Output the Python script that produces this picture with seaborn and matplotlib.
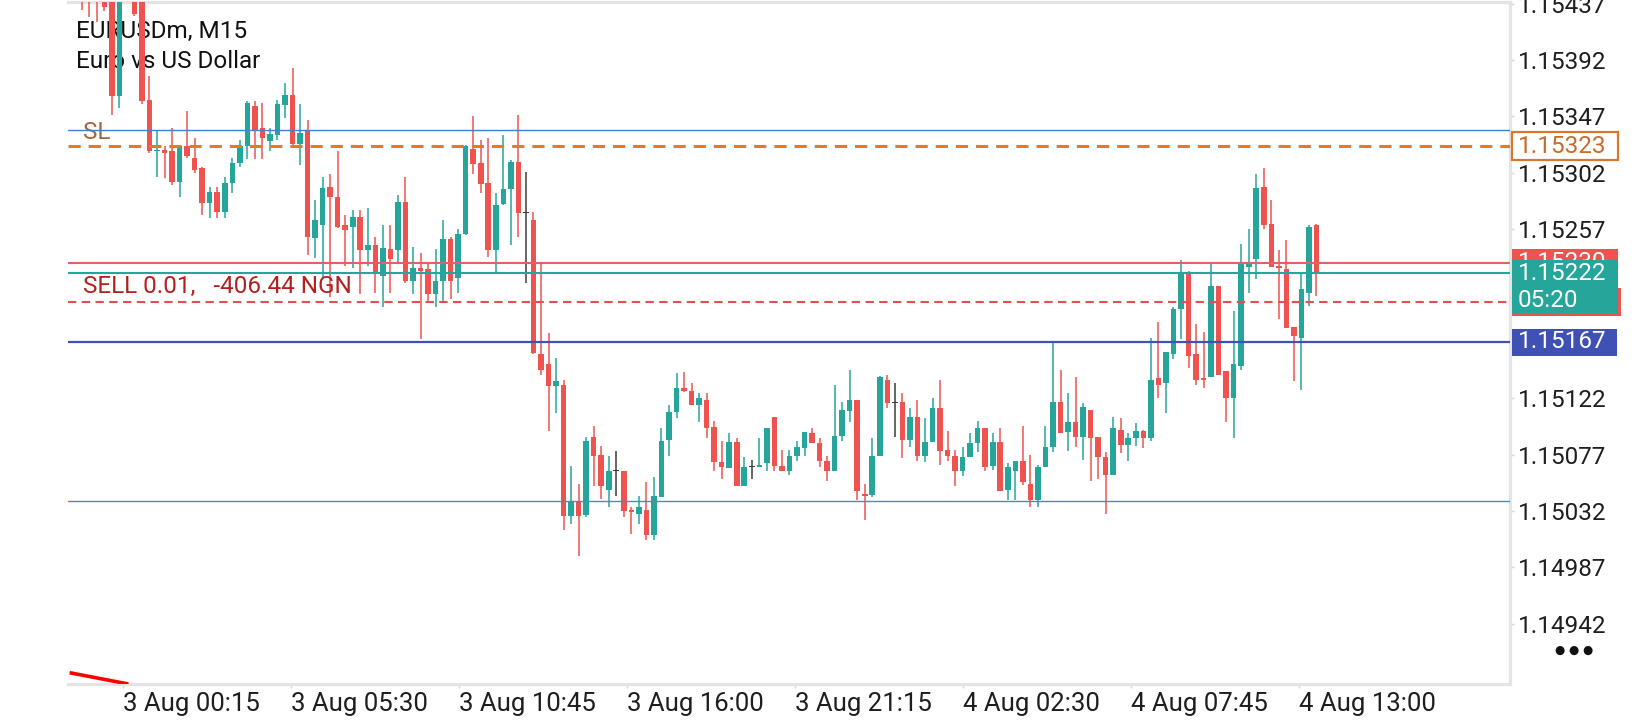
import matplotlib
matplotlib.use("Agg")
import matplotlib.pyplot as plt
import matplotlib.patches as mpatches
import matplotlib.transforms as mtransforms
import numpy as np
import seaborn as sns

symbol = "EURUSDm, M15"
description = "Euro vs US Dollar"

# M15 candles (left to right)
opens = [1.15446, 1.15448, 1.15450, 1.15447, 1.15446, 1.15363, 1.15448, 1.15455, 1.15438, 1.15360,
         1.15319, 1.15320, 1.15319, 1.15295, 1.15323, 1.15314, 1.15306, 1.15278, 1.15287, 1.15271,
         1.15294, 1.15310, 1.15323, 1.15355, 1.15338, 1.15327, 1.15332, 1.15356, 1.15364, 1.15325,
         1.15336, 1.15250, 1.15260, 1.15291, 1.15283, 1.15260, 1.15259, 1.15267, 1.15240, 1.15244,
         1.15220, 1.15241, 1.15240, 1.15279, 1.15216, 1.15226, 1.15225, 1.15205, 1.15216, 1.15249,
         1.15218, 1.15253, 1.15321, 1.15310, 1.15294, 1.15240, 1.15277, 1.15289, 1.15311, 1.15270,
         1.15264, 1.15157, 1.15149, 1.15132, 1.15133, 1.15028, 1.15039, 1.15029, 1.15091, 1.15077,
         1.15049, 1.15064, 1.15064, 1.15033, 1.15030, 1.15033, 1.15013, 1.15043, 1.15089, 1.15111,
         1.15130, 1.15128, 1.15117, 1.15121, 1.15099, 1.15071, 1.15066, 1.15087, 1.15052, 1.15067,
         1.15067, 1.15070, 1.15107, 1.15068, 1.15064, 1.15076, 1.15082, 1.15094, 1.15086, 1.15072,
         1.15064, 1.15092, 1.15112, 1.15121, 1.15046, 1.15045, 1.15076, 1.15137, 1.15118, 1.15119,
         1.15089, 1.15107, 1.15076, 1.15087, 1.15114, 1.15081, 1.15076, 1.15064, 1.15075, 1.15086,
         1.15098, 1.15068, 1.15087, 1.15049, 1.15064, 1.15072, 1.15054, 1.15041, 1.15067, 1.15083,
         1.15119, 1.15095, 1.15103, 1.15091, 1.15113, 1.15091, 1.15075, 1.15061, 1.15097, 1.15085,
         1.15090, 1.15096, 1.15090, 1.15138, 1.15134, 1.15157, 1.15193, 1.15221, 1.15157, 1.15138,
         1.15139, 1.15212, 1.15144, 1.15122, 1.15148, 1.15227, 1.15233, 1.15291, 1.15261, 1.15228,
         1.15225, 1.15179, 1.15170, 1.15206, 1.15260]
highs = [1.15451, 1.15453, 1.15456, 1.15455, 1.15452, 1.15456, 1.15462, 1.15460, 1.15445, 1.15379,
         1.15335, 1.15323, 1.15338, 1.15324, 1.15351, 1.15330, 1.15307, 1.15291, 1.15291, 1.15299,
         1.15314, 1.15328, 1.15359, 1.15359, 1.15358, 1.15338, 1.15360, 1.15374, 1.15386, 1.15357,
         1.15344, 1.15280, 1.15299, 1.15301, 1.15319, 1.15268, 1.15272, 1.15272, 1.15274, 1.15251,
         1.15260, 1.15260, 1.15284, 1.15299, 1.15243, 1.15238, 1.15230, 1.15241, 1.15264, 1.15251,
         1.15257, 1.15324, 1.15347, 1.15328, 1.15330, 1.15286, 1.15332, 1.15312, 1.15348, 1.15303,
         1.15271, 1.15230, 1.15174, 1.15154, 1.15137, 1.15068, 1.15054, 1.15091, 1.15100, 1.15084,
         1.15076, 1.15080, 1.15064, 1.15035, 1.15044, 1.15055, 1.15059, 1.15098, 1.15117, 1.15142,
         1.15143, 1.15134, 1.15126, 1.15126, 1.15104, 1.15088, 1.15094, 1.15090, 1.15075, 1.15073,
         1.15090, 1.15098, 1.15107, 1.15081, 1.15081, 1.15088, 1.15095, 1.15098, 1.15090, 1.15076,
         1.15133, 1.15119, 1.15145, 1.15121, 1.15054, 1.15090, 1.15140, 1.15141, 1.15134, 1.15126,
         1.15114, 1.15121, 1.15106, 1.15122, 1.15137, 1.15096, 1.15081, 1.15083, 1.15094, 1.15104,
         1.15098, 1.15094, 1.15098, 1.15070, 1.15072, 1.15100, 1.15077, 1.15069, 1.15100, 1.15166,
         1.15145, 1.15126, 1.15139, 1.15118, 1.15113, 1.15091, 1.15079, 1.15107, 1.15106, 1.15094,
         1.15102, 1.15097, 1.15170, 1.15183, 1.15159, 1.15195, 1.15232, 1.15224, 1.15181, 1.15175,
         1.15229, 1.15212, 1.15144, 1.15192, 1.15245, 1.15257, 1.15301, 1.15306, 1.15280, 1.15240,
         1.15248, 1.15179, 1.15223, 1.15260, 1.15261]
lows = [1.15432, 1.15426, 1.15422, 1.15431, 1.15348, 1.15354, 1.15443, 1.15427, 1.15357, 1.15318,
        1.15299, 1.15298, 1.15292, 1.15283, 1.15314, 1.15302, 1.15268, 1.15266, 1.15266, 1.15266,
        1.15286, 1.15307, 1.15313, 1.15313, 1.15313, 1.15319, 1.15328, 1.15346, 1.15323, 1.15308,
        1.15236, 1.15234, 1.15219, 1.15203, 1.15258, 1.15228, 1.15226, 1.15205, 1.15228, 1.15206,
        1.15195, 1.15206, 1.15230, 1.15214, 1.15205, 1.15169, 1.15198, 1.15195, 1.15200, 1.15201,
        1.15206, 1.15252, 1.15301, 1.15286, 1.15235, 1.15222, 1.15276, 1.15244, 1.15251, 1.15214,
        1.15157, 1.15141, 1.15096, 1.15110, 1.15017, 1.15022, 1.14996, 1.15027, 1.15052, 1.15042,
        1.15035, 1.15044, 1.15027, 1.15014, 1.15022, 1.15009, 1.15009, 1.15043, 1.15076, 1.15106,
        1.15127, 1.15117, 1.15103, 1.15090, 1.15064, 1.15058, 1.15066, 1.15052, 1.15052, 1.15058,
        1.15067, 1.15064, 1.15064, 1.15064, 1.15061, 1.15072, 1.15076, 1.15086, 1.15067, 1.15056,
        1.15064, 1.15088, 1.15103, 1.15041, 1.15025, 1.15043, 1.15076, 1.15114, 1.15091, 1.15074,
        1.15083, 1.15072, 1.15071, 1.15087, 1.15069, 1.15072, 1.15052, 1.15060, 1.15075, 1.15079,
        1.15064, 1.15065, 1.15048, 1.15041, 1.15041, 1.15053, 1.15035, 1.15035, 1.15067, 1.15079,
        1.15094, 1.15080, 1.15083, 1.15073, 1.15056, 1.15058, 1.15030, 1.15061, 1.15078, 1.15072,
        1.15084, 1.15082, 1.15088, 1.15122, 1.15110, 1.15153, 1.15169, 1.15146, 1.15133, 1.15130,
        1.15139, 1.15141, 1.15103, 1.15090, 1.15145, 1.15206, 1.15217, 1.15257, 1.15227, 1.15185,
        1.15178, 1.15136, 1.15129, 1.15196, 1.15204]
closes = [1.15441, 1.15443, 1.15445, 1.15434, 1.15363, 1.15448, 1.15455, 1.15429, 1.15359, 1.15319,
          1.15320, 1.15318, 1.15295, 1.15323, 1.15315, 1.15304, 1.15278, 1.15287, 1.15271, 1.15294,
          1.15310, 1.15323, 1.15358, 1.15336, 1.15330, 1.15333, 1.15357, 1.15364, 1.15325, 1.15334,
          1.15251, 1.15264, 1.15290, 1.15283, 1.15259, 1.15256, 1.15267, 1.15240, 1.15244, 1.15221,
          1.15242, 1.15233, 1.15279, 1.15216, 1.15226, 1.15224, 1.15205, 1.15216, 1.15249, 1.15216,
          1.15253, 1.15323, 1.15309, 1.15293, 1.15240, 1.15276, 1.15289, 1.15311, 1.15270, 1.15270,
          1.15158, 1.15145, 1.15132, 1.15136, 1.15028, 1.15039, 1.15028, 1.15088, 1.15076, 1.15052,
          1.15064, 1.15064, 1.15032, 1.15031, 1.15035, 1.15013, 1.15044, 1.15088, 1.15111, 1.15130,
          1.15128, 1.15117, 1.15122, 1.15098, 1.15071, 1.15067, 1.15087, 1.15052, 1.15067, 1.15067,
          1.15069, 1.15098, 1.15068, 1.15064, 1.15076, 1.15083, 1.15095, 1.15086, 1.15072, 1.15064,
          1.15092, 1.15113, 1.15121, 1.15048, 1.15044, 1.15076, 1.15139, 1.15118, 1.15118, 1.15089,
          1.15107, 1.15076, 1.15087, 1.15114, 1.15080, 1.15076, 1.15064, 1.15075, 1.15086, 1.15098,
          1.15067, 1.15087, 1.15048, 1.15067, 1.15072, 1.15055, 1.15041, 1.15067, 1.15083, 1.15119,
          1.15094, 1.15103, 1.15091, 1.15115, 1.15090, 1.15075, 1.15061, 1.15098, 1.15085, 1.15090,
          1.15096, 1.15090, 1.15137, 1.15133, 1.15159, 1.15193, 1.15221, 1.15156, 1.15137, 1.15137,
          1.15212, 1.15141, 1.15122, 1.15149, 1.15229, 1.15229, 1.15290, 1.15260, 1.15227, 1.15226,
          1.15178, 1.15172, 1.15209, 1.15259, 1.15221]

time_labels = ["3 Aug 00:15", "3 Aug 05:30", "3 Aug 10:45", "3 Aug 16:00",
               "3 Aug 21:15", "4 Aug 02:30", "4 Aug 07:45", "4 Aug 13:00"]
price_ticks = [1.15437, 1.15392, 1.15347, 1.15302, 1.15257, 1.15212,
               1.15167, 1.15122, 1.15077, 1.15032, 1.14987, 1.14942]

# levels drawn on the chart
sl_price = 1.15323
upper_line = 1.15336
lower_line = 1.15040
ask_price = 1.15230
bid_price = 1.15222
open_price = 1.15199
level_price = 1.15167
countdown = "05:20"
position_label = "SELL 0.01,   -406.44 NGN"
trend_x = [-1.6, 6.2]
trend_y = [1.14903, 1.14894]

TEAL = "#26a69a"
RED = "#ef5350"
DOJI = "#3c3c3c"
FS = 17.5

sns.set_theme(style="white")
plt.rcParams["font.family"] = ["Roboto", "DejaVu Sans"]

fig = plt.figure(figsize=(16.4, 7.2), dpi=100)
ax = fig.add_axes([68 / 1640, 36 / 720, 1442 / 1640, 682 / 720])
ylo, yhi = 1.14894, 1.154383
ax.set_xlim(-1.82, 189.7)
ax.set_ylim(ylo, yhi)

# candles
o = np.array(opens)
h = np.array(highs)
l = np.array(lows)
c = np.array(closes)
idx = np.arange(len(o))
cols = np.where(c > o, TEAL, np.where(c < o, RED, DOJI))
ax.vlines(idx, l, h, colors=cols, lw=1.1, zorder=3)
body = np.maximum(np.abs(c - o), 0.000007)
ax.bar(idx, body, bottom=np.minimum(o, c), width=0.74, color=cols, linewidth=0, zorder=4)

# horizontal lines
ax.axhline(upper_line, color="#3f7fd6", lw=1.0, zorder=5)
ax.axhline(lower_line, color="#3a8fcf", lw=1.0, zorder=5)
ax.axhline(sl_price, color="#e07b2a", lw=2.2, ls=(0, (4, 2.6)), zorder=5)
ax.axhline(ask_price, color="#e06262", lw=1.5, zorder=5)
ax.axhline(bid_price, color=TEAL, lw=1.5, zorder=5)
ax.axhline(open_price, color="#e05050", lw=1.5, ls=(0, (4, 2.6)), zorder=5)
ax.axhline(level_price, color="#3f51b5", lw=1.6, zorder=5)
ax.plot(trend_x, trend_y, color="#ff0000", lw=2.6, solid_capstyle="butt", zorder=6)

# frame
for side in ["top", "right", "bottom"]:
    ax.spines[side].set_color("#e4e4e4")
    ax.spines[side].set_linewidth(2.3)
ax.spines["left"].set_visible(False)

ax.yaxis.tick_right()
ax.set_yticks(price_ticks)
ax.set_yticklabels([f"{p:.5f}" for p in price_ticks])
ax.tick_params(axis="y", length=3, width=1, color="#d6d6d6", pad=3,
               labelsize=FS, labelcolor="#1e1e1e", right=True, left=False)
tick_pos = 5.48 + 22.31 * np.arange(len(time_labels))
ax.set_xticks(tick_pos)
ax.set_xticklabels(time_labels, ha="left")
ax.tick_params(axis="x", length=3, width=1, color="#d6d6d6", pad=2.5,
               labelsize=18.5, labelcolor="#1e1e1e", bottom=True)
ax.grid(False)

# price boxes on the right scale, later boxes cover earlier ones
bt = mtransforms.blended_transform_factory(ax.transAxes, ax.transData)
pp = (yhi - ylo) / 682
ax_px = 1 / 1442


def price_box(price, up, down, fc, ec, width, z, lw=0):
    ax.add_patch(mpatches.Rectangle((1 + 2 * ax_px, price - down * pp), width * ax_px,
                                    (up + down) * pp, transform=bt, fc=fc, ec=ec, lw=lw,
                                    clip_on=False, zorder=z))


def box_text(price, text, color, z):
    ax.text(1 + 8 * ax_px, price, text, transform=bt, ha="left", va="center",
            fontsize=FS, color=color, clip_on=False, zorder=z + 0.5)


price_box(sl_price, 14, 14, "white", "#d9772b", 106, 10, lw=1.6)
box_text(sl_price, f"{sl_price:.5f}", "#c86a2e", 10)
price_box(open_price, 14, 14, RED, RED, 109, 11)
box_text(open_price, f"{open_price:.5f}", "white", 11)
price_box(ask_price, 14, 14, RED, RED, 106, 12)
box_text(ask_price, f"{ask_price:.5f}", "white", 12)
price_box(bid_price, 13, 41, TEAL, TEAL, 106, 13)
box_text(bid_price, f"{bid_price:.5f}", "white", 13)
box_text(bid_price - 27 * pp, countdown, "white", 13)
price_box(level_price, 13, 14, "#3f51b5", "#3f51b5", 105, 14)
box_text(level_price, f"{level_price:.5f}", "white", 14)

# texts on the chart
ax.text(0.0055, 0.957, symbol, transform=ax.transAxes, ha="left", va="center",
        fontsize=FS, color="#111111")
ax.text(0.0055, 0.913, description, transform=ax.transAxes, ha="left", va="center",
        fontsize=FS, color="#111111")
ax.annotate("SL", xy=(0.0105, sl_price), xycoords=bt, xytext=(0, 1.5),
            textcoords="offset points", ha="left", va="bottom", fontsize=FS, color="#a5643c")
ax.annotate(position_label, xy=(0.0105, open_price), xycoords=bt, xytext=(0, 2.5),
            textcoords="offset points", ha="left", va="bottom", fontsize=FS, color="#b3201e")
fig.text(1555 / 1640, 1 - 650 / 720, "\u25CF \u25CF \u25CF", ha="left", va="center",
         fontsize=8.5, color="#111111", family=["DejaVu Sans"])

fig.savefig("out.png", dpi=100, facecolor="white")
